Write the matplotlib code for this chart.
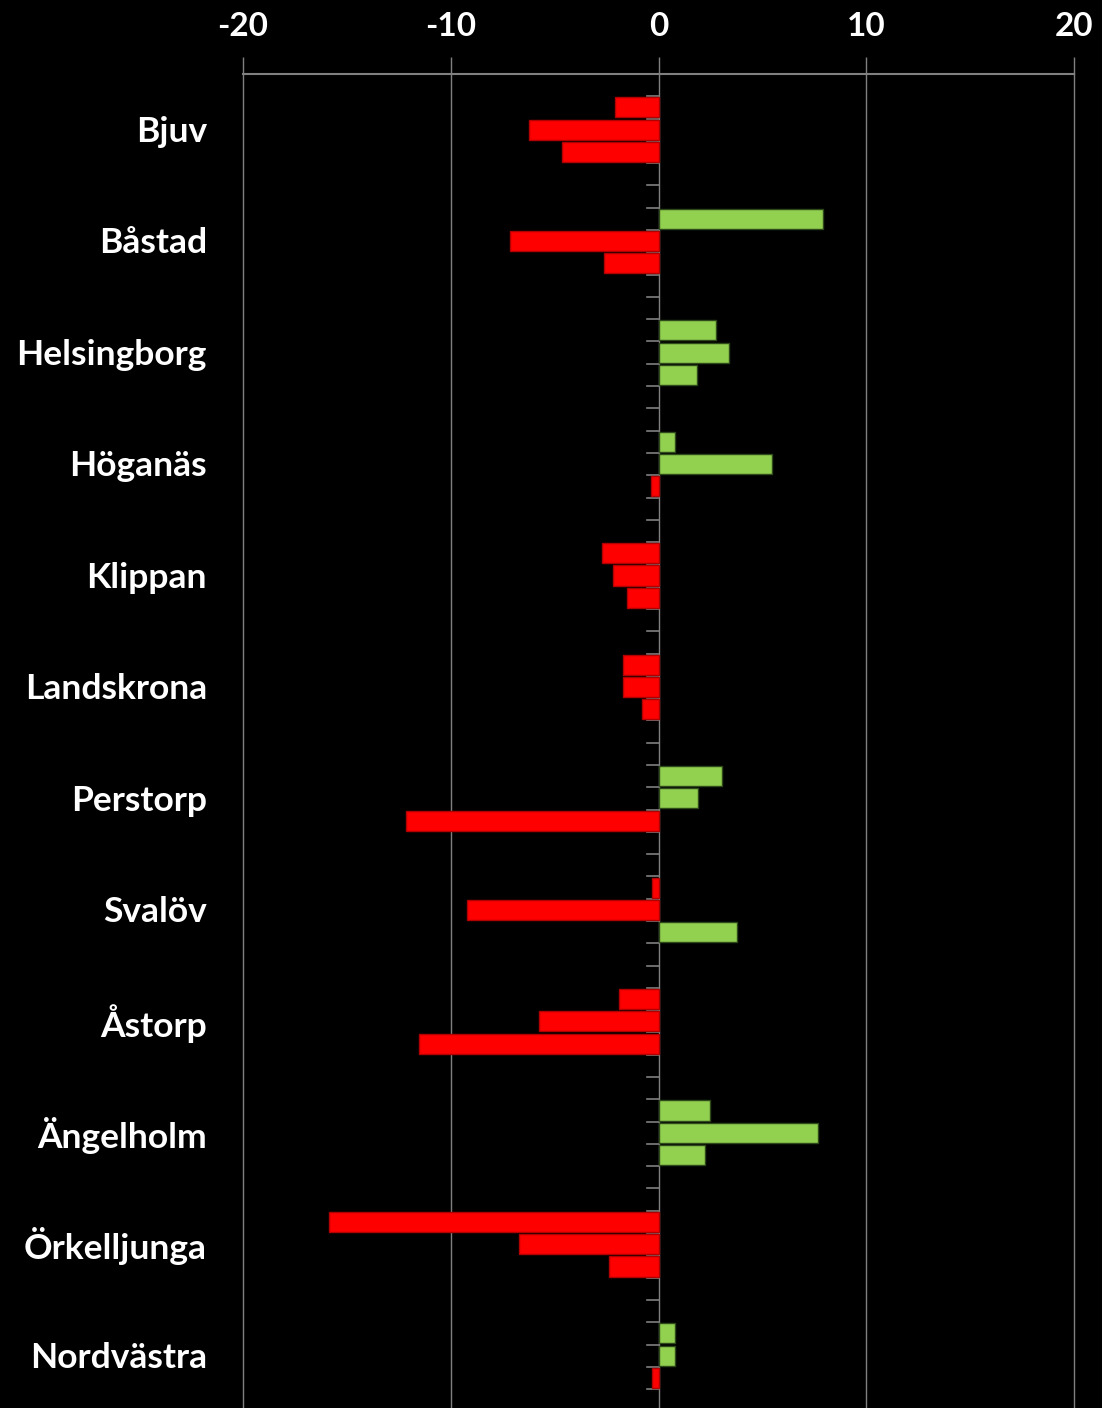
import matplotlib
matplotlib.use("Agg")
import matplotlib.pyplot as plt
import numpy as np

categories = ["Bjuv", "Båstad", "Helsingborg", "Höganäs", "Klippan", "Landskrona",
              "Perstorp", "Svalöv", "Åstorp", "Ängelholm", "Örkelljunga", "Nordvästra"]
series1 = [-2.1, 7.9, 2.75, 0.8, -2.7, -1.7, 3.05, -0.3, -1.9, 2.5, -15.85, 0.8]
series2 = [-6.25, -7.15, 3.4, 5.45, -2.2, -1.7, 1.9, -9.2, -5.75, 7.7, -6.7, 0.8]
series3 = [-4.65, -2.6, 1.85, -0.35, -1.5, -0.8, -12.15, 3.8, -11.55, 2.25, -2.4, -0.3]
xticks = [-20, -10, 0, 10, 20]

FONT = ["Lato", "DejaVu Sans"]
W, H = 1102, 1408
fig = plt.figure(figsize=(W / 100, H / 100), dpi=100, facecolor="black")

# axes in pixel coordinates
left_px, right_px = 243, 1074
top_px = 74
slot = 22.29
n = len(categories)
bottom_px = top_px + n * 5 * slot
ax = fig.add_axes([left_px / W, 1 - bottom_px / H, (right_px - left_px) / W, (bottom_px - top_px) / H])
ax.set_facecolor("black")
ax.set_xlim(-20, 20)
ax.set_ylim(n * 5, 0)

red, red_edge = "#ff0000", "#b00000"
green, green_edge = "#92d050", "#2e4a1a"

for i in range(n):
    for j, vals in enumerate([series1, series2, series3]):
        v = vals[i]
        yc = i * 5 + 1.5 + j
        if v < 0:
            fc, ec = red, red_edge
        else:
            fc, ec = green, green_edge
        ax.barh(yc, v, height=0.9, left=0, color=fc, edgecolor=ec, linewidth=1.0, zorder=3)

grid_c = "#808080"
for x in xticks:
    ax.axvline(x, color=grid_c, linewidth=1.0, zorder=1, clip_on=False)
# top border line
ax.axhline(0, color=grid_c, linewidth=1.5, zorder=2, clip_on=False)

# small ticks on zero axis at each slot boundary
px_per_unit = (right_px - left_px) / 40
tick_len = 12 / px_per_unit
for k in range(n * 5 + 1):
    ax.plot([-tick_len, 0], [k, k], color=grid_c, linewidth=1.2, zorder=2, clip_on=False)

for s in ax.spines.values():
    s.set_visible(False)
ax.set_yticks([])
ax.xaxis.tick_top()
ax.set_xticks(xticks)
ax.set_xticklabels([str(x) for x in xticks])
ax.tick_params(axis="x", colors=grid_c, length=12, width=1.0, pad=12,
               labelcolor="white", labelsize=24)
for lab in ax.get_xticklabels():
    lab.set_fontfamily(FONT)
    lab.set_fontweight("bold")

for i, c in enumerate(categories):
    ax.text(-20 - 36 / px_per_unit, i * 5 + 2.6, c, ha="right", va="center",
            color="white", fontsize=25.5, fontweight="bold", family=FONT, clip_on=False)

fig.savefig("out.png", dpi=100, facecolor="black")
